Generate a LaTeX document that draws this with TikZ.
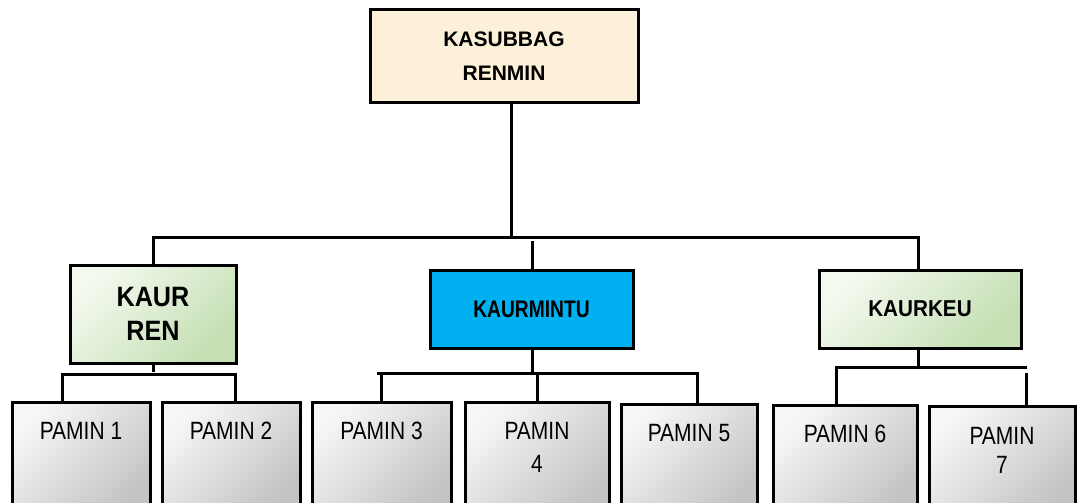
\documentclass[tikz,border=0pt]{standalone}
\usepackage{fontspec}
\setmainfont{Liberation Sans}
\newfontfamily\fpam{Liberation Sans}[FakeStretch=0.84]
\newfontfamily\fkr{Liberation Sans}[FakeStretch=0.9]
\newfontfamily\fkm{Liberation Sans}[FakeStretch=0.8]
\definecolor{beige}{RGB}{252,240,217}
\definecolor{greenA}{RGB}{244,249,239}
\definecolor{greenB}{RGB}{196,223,178}
\definecolor{cyanbox}{RGB}{0,176,240}
\definecolor{greyA}{RGB}{246,246,246}
\definecolor{greyB}{RGB}{196,196,196}
\begin{document}
\begin{tikzpicture}[x=1pt,y=-1pt,
  box/.style={draw=black, line width=3pt, inner sep=0pt, align=center},
  greenbox/.style={box, top color=greenA, bottom color=greenB, shading angle=45},
  pamin/.style={box, top color=greyA, bottom color=greyB, shading angle=45,
     font=\fpam\fontsize{25}{30}\selectfont, text height=37pt, text depth=72pt, anchor=north},
  conn/.style={draw=black, line width=3pt}]
\useasboundingbox (0,0) rectangle (1082,503);
\clip (0,0) rectangle (1082,503);

% boxes
\node[box, fill=beige, minimum width=268pt, minimum height=92pt,
      font=\bfseries\fontsize{21}{34}\selectfont] (top) at (504,56) {KASUBBAG\\RENMIN};
\node[greenbox, minimum width=166pt, minimum height=98pt,
      font=\fkr\bfseries\fontsize{28}{34}\selectfont] (kaurren) at (153,314) {KAUR\\REN};
\node[box, fill=cyanbox, minimum width=203pt, minimum height=78pt,
      font=\fkm\bfseries\fontsize{24}{28}\selectfont] (kaurmintu) at (531.5,309) {KAURMINTU};
\node[greenbox, minimum width=202pt, minimum height=78pt,
      font=\fkr\bfseries\fontsize{23}{28}\selectfont] (kaurkeu) at (920,309) {KAURKEU};

\node[pamin, minimum width=138pt] (p1) at (81,401) {PAMIN 1};
\node[pamin, minimum width=138pt] (p2) at (231,401) {PAMIN 2};
\node[pamin, minimum width=139pt] (p3) at (381.5,401) {PAMIN 3};
\node[pamin, minimum width=144pt, text height=70pt, text depth=39pt] (p4) at (537,401) {PAMIN\\[3pt]4};
\node[pamin, minimum width=136pt] (p5) at (689,403) {PAMIN 5};
\node[pamin, minimum width=144pt] (p6) at (845,404) {PAMIN 6};
\node[pamin, minimum width=146pt, text height=67pt, text depth=42pt] (p7) at (1002,405) {PAMIN\\[-1pt]7};

% junction points
\coordinate (t0) at (511,237);
\coordinate (hl) at (153,237);
\coordinate (hr) at (918,237);
\coordinate (m0) at (532,241);
\coordinate (ra) at (62,374);
\coordinate (rb) at (235,374);
\coordinate (r0) at (153,372);
\coordinate (ma) at (377,373);
\coordinate (mb) at (697,373);
\coordinate (mc) at (532,373);
\coordinate (ka) at (836,367);
\coordinate (kb) at (1027,367);
\coordinate (kc) at (918,367);
\coordinate (kd) at (1026,373);

% connectors
\draw[conn] (top.south -| t0) -- (t0);
\draw[conn] (kaurren.north) -- (hl) -- (hr) -- (hr |- kaurkeu.north);
\draw[conn] (m0) -- (m0 |- kaurmintu.north);

\draw[conn] (kaurren.south) -- (r0);
\draw[conn] (ra |- p1.north) -- (ra) -- (rb) -- (rb |- p2.north);

\draw[conn] (mc |- kaurmintu.south) -- (mc);
\draw[conn] (ma) -- (mb) -- (mb |- p5.north);
\draw[conn] (p3.north) -- (p3.north |- ma);
\draw[conn] (p4.north) -- (p4.north |- ma);

\draw[conn] (kc |- kaurkeu.south) -- (kc);
\draw[conn] (ka |- p6.north) -- (ka) -- (kb);
\draw[conn] (kd) -- (kd |- p7.north);
\end{tikzpicture}
\end{document}
